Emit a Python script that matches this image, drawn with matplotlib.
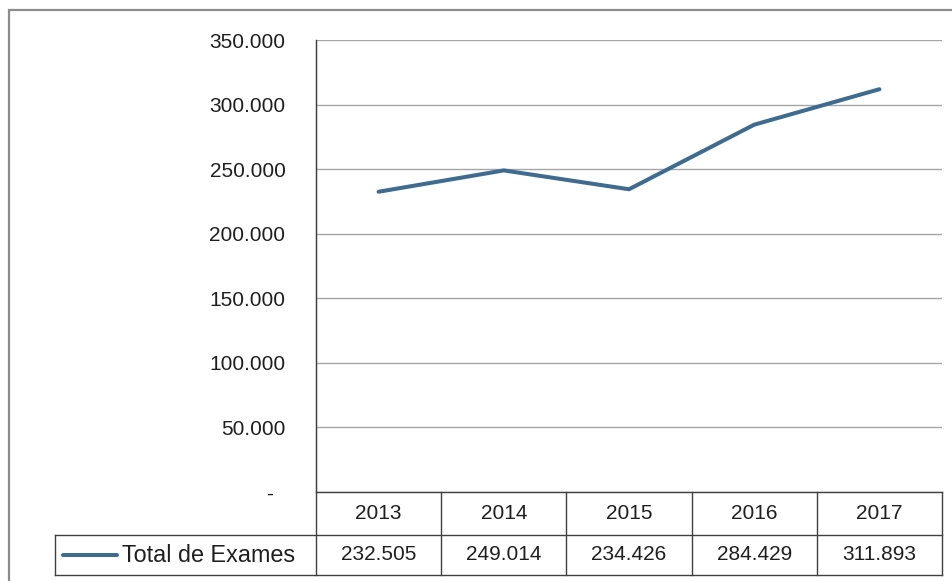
import matplotlib.pyplot as plt
import matplotlib.patches as patches
import matplotlib.transforms as mtransforms

anos = ['2013', '2014', '2015', '2016', '2017']
total_exames = [232505, 249014, 234426, 284429, 311893]
serie = 'Total de Exames'
yticks = [0, 50000, 100000, 150000, 200000, 250000, 300000, 350000]

W, H = 953, 581
fig = plt.figure(figsize=(W / 100, H / 100), dpi=100)
plt.rcParams['font.family'] = ['Liberation Sans', 'DejaVu Sans']

def fmt(v):
    return f'{v:,.0f}'.replace(',', '.')

# area do grafico (pixels medidos na referencia)
left, right, top, bottom = 316, 942, 40, 492
ax = fig.add_axes([left / W, 1 - bottom / H, (right - left) / W, (bottom - top) / H])

cor = '#3F6B8E'
x = list(range(len(anos)))
ax.plot(x, total_exames, color=cor, lw=2.9, solid_capstyle='round')
ax.set_xlim(-0.5, len(anos) - 0.5)
ax.set_ylim(0, 350000)
ax.set_yticks(yticks)
ax.set_yticklabels(['-  '] + [fmt(v) for v in yticks[1:]], fontsize=15, color='#1F1F1F')
ax.tick_params(axis='y', length=0, pad=22)
ax.set_xticks([])
ax.grid(axis='y', color='#A6A6A6', lw=1)
ax.set_axisbelow(True)
for s in ['top', 'right', 'bottom']:
    ax.spines[s].set_visible(False)
ax.spines['left'].set_color('#404040')

# tabela de dados abaixo do grafico
trans = mtransforms.blended_transform_factory(ax.transData, ax.transAxes)
def fy(py):
    return (bottom - py) / (bottom - top)

y0, y1, y2 = fy(492), fy(535), fy(575)
lc = '#404040'
xs = [-0.5 + i for i in range(len(anos) + 1)]
xa = lambda px: (px - left) / (right - left)
# linhas horizontais
ax.plot([xs[0], xs[-1]], [y0, y0], color=lc, lw=1, transform=trans, clip_on=False)
ax.plot([xa(55), xa(right)], [y1, y1], color=lc, lw=1, transform=ax.transAxes, clip_on=False)
ax.plot([xa(55), xa(right)], [y2, y2], color=lc, lw=1, transform=ax.transAxes, clip_on=False)
ax.plot([xa(55), xa(55)], [y1, y2], color=lc, lw=1, transform=ax.transAxes, clip_on=False)
# linhas verticais
for i, xv in enumerate(xs):
    ytop = 1 if i == 0 else y0
    ax.plot([xv, xv], [ytop, y2], color=lc, lw=1, transform=trans, clip_on=False)

for i, (a, v) in enumerate(zip(anos, total_exames)):
    ax.text(i, (y0 + y1) / 2, a, transform=trans, ha='center', va='center',
            fontsize=15, color='#1F1F1F', clip_on=False)
    ax.text(i, (y1 + y2) / 2, fmt(v), transform=trans, ha='center', va='center',
            fontsize=15, color='#1F1F1F', clip_on=False)

ym = (y1 + y2) / 2
ax.plot([xa(63), xa(117)], [ym, ym], color=cor, lw=2.9, solid_capstyle='round',
        transform=ax.transAxes, clip_on=False)
ax.text(xa(122), ym, serie, transform=ax.transAxes, ha='left', va='center',
        fontsize=16.8, color='#1F1F1F', clip_on=False)

# borda externa
fig.patches.append(patches.Rectangle((9 / W, -0.05), 1.0, 1 - 10 / H + 0.05,
                                     transform=fig.transFigure, fill=False,
                                     edgecolor='#8C8C8C', lw=1.6))

fig.savefig('out.png', dpi=100)
